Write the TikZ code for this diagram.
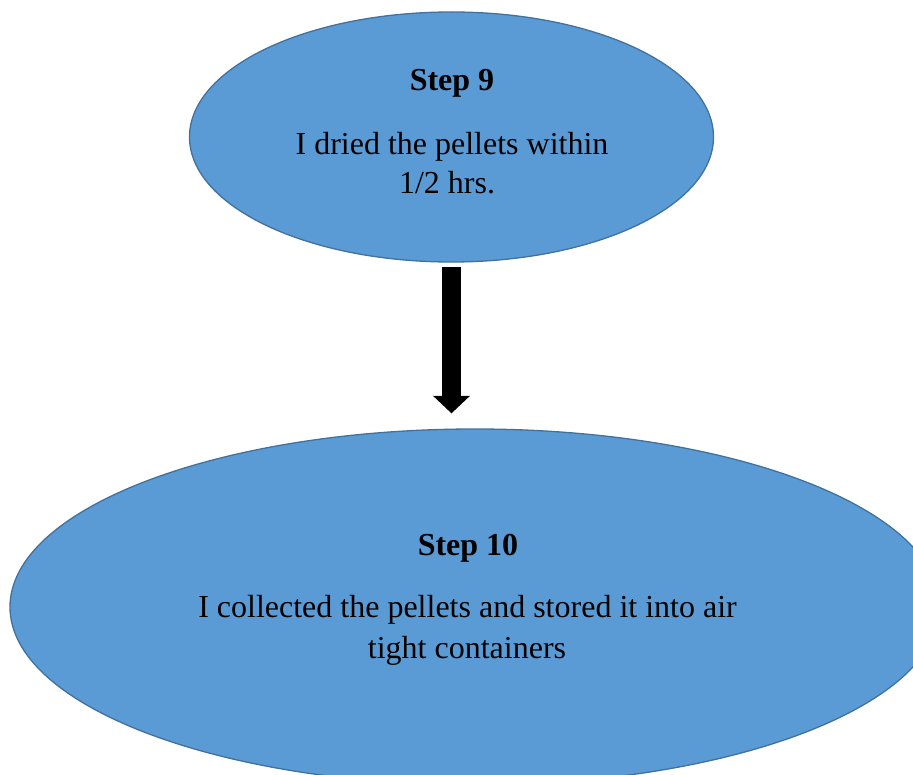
\documentclass[tikz,border=0pt]{standalone}
\usepackage{fontspec}
\setmainfont{Liberation Serif}
\usetikzlibrary{shapes.geometric,arrows.meta}
\definecolor{fillblue}{HTML}{5B9BD5}
\definecolor{edgeblue}{HTML}{41719C}
\tikzset{
  stepoval/.style={ellipse, draw=edgeblue, fill=fillblue, line width=1.3pt, inner sep=0pt},
  steptitle/.style={anchor=base, inner sep=0pt, font=\fontsize{32}{38}\selectfont\bfseries},
  steptext/.style={anchor=base, inner sep=0pt, font=\fontsize{32}{38}\selectfont},
  bigarrow/.style={line width=19pt, draw=black, -{Triangle[width=36pt,length=17.5pt]}}
}
\begin{document}
\begin{tikzpicture}[x=1pt,y=-1pt]
\clip (0,0) rectangle (913,775);
\fill[white] (0,0) rectangle (913,775);
% ovals
\node[stepoval, minimum width=524pt, minimum height=250pt] (s9) at (451.5,137) {};
\node[stepoval, minimum width=930pt, minimum height=356pt] (s10) at (475,607) {};
% texts
\node[steptitle] (t9) at (452,91) {Step 9};
\node[steptext] (t9a) at (452,155) {I dried the pellets within};
\node[steptext] (t9b) at (447,194) {1/2 hrs.};
\node[steptitle] (t10) at (468,555) {Step 10};
\node[steptext] (t10a) at (467.5,617) {I collected the pellets and stored it into air};
\node[steptext] (t10b) at (467,658) {tight containers};
% arrow
\draw[bigarrow] ([yshift=-4pt]s9.south) -- ([yshift=15pt]s9.south |- s10.north);
\end{tikzpicture}
\end{document}
